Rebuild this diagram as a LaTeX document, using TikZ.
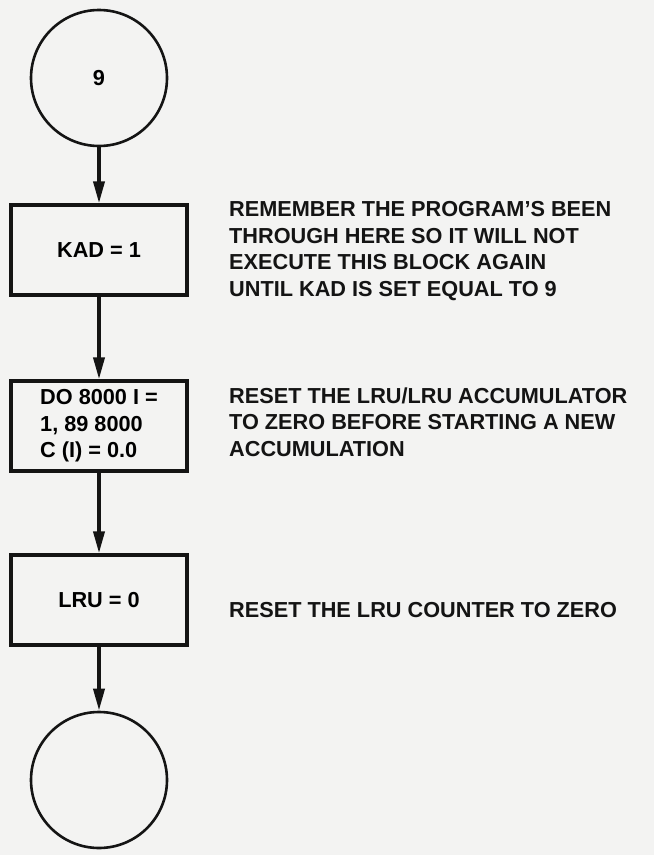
\documentclass[tikz,border=0pt]{standalone}
\usepackage{fontspec}
\setmainfont{Liberation Sans}[BoldFont={Liberation Sans Bold}]
\usetikzlibrary{arrows.meta}
\definecolor{paper}{RGB}{243,243,242}
\definecolor{ink}{RGB}{20,20,20}
\tikzset{
  connector/.style = {circle, draw = ink, line width = 2.6pt, minimum size = 136pt,
    inner sep = 0pt, font = \bfseries\fontsize{21.7}{26.4}\selectfont},
  flowbox/.style = {rectangle, draw = ink, line width = 3.2pt, minimum width = 176pt,
    minimum height = 90pt, inner sep = 0pt, align = left,
    font = \bfseries\fontsize{21.7}{26.4}\selectfont},
  remark/.style = {anchor = west, inner sep = 0pt, align = left, text = ink,
    font = \bfseries\fontsize{21.7}{26.4}\selectfont},
  flowarrow/.style = {draw = ink, line width = 3.6pt,
    -{Triangle[length = 22pt, width = 11pt]}}
}
\begin{document}
\begin{tikzpicture}[x = 1pt, y = -1pt]
  \fill [paper] (0, 0) rectangle (654, 855);
  \useasboundingbox (0, 0) rectangle (654, 855);
  % flow
  \node [connector] (c9) at (99, 78) {9};
  \node [flowbox] (kad) at (99, 250) {KAD = 1};
  \node [flowbox] (do) at (99, 426) {DO 8000 I =\\1, 89 8000\\C (I) = 0.0};
  \node [flowbox] (lru) at (99, 600) {LRU = 0};
  \node [connector] (cend) at (99, 780) {};
  \draw [flowarrow] (c9) -- (kad);
  \draw [flowarrow] (kad) -- (do);
  \draw [flowarrow] (do) -- (lru);
  \draw [flowarrow] (lru) -- (cend);
  % remarks
  \node [remark] (kadnote) at (229, 251) {REMEMBER THE PROGRAM'S BEEN\\THROUGH HERE SO IT WILL NOT\\EXECUTE THIS BLOCK AGAIN\\UNTIL KAD IS SET EQUAL TO 9};
  \node [remark] (donote) at (229, 422) {RESET THE LRU/LRU ACCUMULATOR\\TO ZERO BEFORE STARTING A NEW\\ACCUMULATION};
  \node [remark] (lrunote) at (229, 610) {RESET THE LRU COUNTER TO ZERO};
\end{tikzpicture}
\end{document}
